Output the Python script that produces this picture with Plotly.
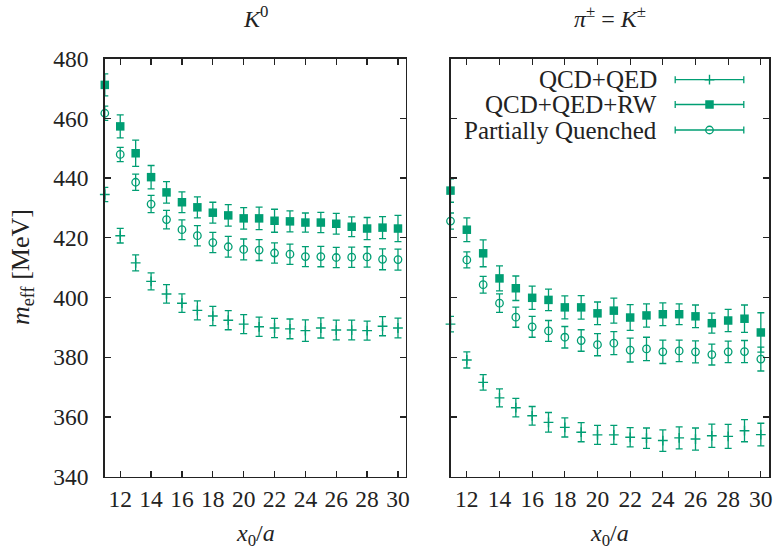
import plotly.graph_objects as go

# ---------------- data ----------------
x0a = list(range(11, 31))

# K0 panel
k0_qcdqed = [434.5, 420.7, 411.6, 405.4, 401.2, 398.1, 395.7, 393.8, 392.4, 391.1,
             390.2, 389.8, 389.5, 388.9, 389.8, 389.1, 389.1, 388.9, 390.4, 389.8]
k0_qcdqed_err = [2.4, 2.45, 2.7, 2.85, 3.1, 3.1, 3.2, 3.2, 3.2, 3.2,
                 3.2, 3.2, 3.3, 3.6, 3.35, 3.3, 3.3, 3.2, 3.2, 3.3]
k0_rw = [471.2, 457.3, 448.3, 440.3, 435.2, 431.9, 430.2, 428.4, 427.5, 426.5,
         426.5, 425.7, 425.5, 425.1, 425.1, 424.7, 423.7, 423.1, 423.4, 423.1]
k0_rw_err = [3.7, 3.85, 4.4, 3.9, 3.6, 3.5, 3.5, 3.5, 3.6, 3.6,
             3.8, 3.85, 3.5, 3.2, 3.4, 3.5, 3.3, 3.7, 3.7, 4.4]
k0_pq = [461.7, 447.9, 438.6, 431.3, 426.1, 422.7, 420.7, 418.4, 417.0, 416.1,
         415.9, 414.9, 414.5, 413.7, 413.7, 413.4, 413.5, 413.6, 412.8, 412.7]
k0_pq_err = [2.4, 2.4, 2.7, 2.9, 3.1, 3.3, 3.4, 3.4, 3.5, 3.5,
             3.5, 3.4, 3.4, 3.35, 3.4, 3.4, 3.4, 3.4, 3.5, 3.5]

# pi+- = K+- panel
pi_qcdqed = [391.1, 379.1, 371.6, 366.4, 363.1, 360.4, 358.2, 356.5, 354.9, 354.0,
             354.0, 353.2, 352.9, 352.1, 353.0, 352.6, 353.7, 353.5, 355.4, 354.1]
pi_qcdqed_err = [2.6, 2.7, 2.6, 3.0, 3.1, 3.1, 3.3, 3.2, 3.2, 3.2,
                 3.2, 3.2, 3.4, 3.6, 3.7, 3.7, 3.9, 4.0, 3.7, 3.8]
pi_rw = [435.8, 422.7, 414.8, 406.4, 403.1, 399.9, 399.2, 396.7, 396.7, 394.7,
         395.6, 393.3, 394.0, 394.4, 394.4, 393.7, 391.4, 392.3, 392.9, 388.3]
pi_rw_err = [3.9, 4.0, 4.5, 4.2, 4.1, 3.9, 3.6, 3.85, 3.96, 3.8,
             4.2, 4.3, 3.9, 3.8, 3.5, 3.8, 3.35, 3.7, 4.6, 6.6]
pi_pq = [425.6, 412.6, 404.3, 398.1, 393.4, 390.2, 388.8, 386.7, 385.6, 384.2,
         384.7, 382.4, 382.8, 381.8, 382.1, 381.8, 380.9, 381.8, 381.9, 379.4]
pi_pq_err = [2.7, 2.7, 2.8, 3.1, 3.35, 3.5, 3.5, 3.6, 3.6, 3.7,
             3.85, 4.0, 3.9, 3.9, 3.6, 3.7, 3.5, 3.6, 3.7, 4.0]

series_names = ["QCD+QED", "QCD+QED+RW", "Partially Quenched"]
x_ticks = [12, 14, 16, 18, 20, 22, 24, 26, 28, 30]
y_ticks = [340, 360, 380, 400, 420, 440, 460, 480]

# ---------------- styling ----------------
GREEN = "#009E73"
FONT = "Liberation Serif"
INK = "#222222"
W, H = 775, 551

styles = [
    dict(symbol="cross-thin-open", size=7, line=dict(width=1.4, color=GREEN), color=GREEN),
    dict(symbol="square", size=8.5, color=GREEN, line=dict(width=0)),
    dict(symbol="circle-open", size=7.5, color=GREEN, line=dict(width=1.3, color=GREEN)),
]

fig = go.Figure()

panels = [
    ("x", "y", [(k0_qcdqed, k0_qcdqed_err), (k0_rw, k0_rw_err), (k0_pq, k0_pq_err)]),
    ("x2", "y2", [(pi_qcdqed, pi_qcdqed_err), (pi_rw, pi_rw_err), (pi_pq, pi_pq_err)]),
]
for xa, ya, sers in panels:
    for (vals, errs), st, name in zip(sers, styles, series_names):
        fig.add_trace(go.Scatter(
            x=x0a, y=vals, mode="markers", name=name, showlegend=False,
            xaxis=xa, yaxis=ya, marker=st, cliponaxis=False,
            error_y=dict(type="data", array=errs, visible=True, color=GREEN,
                         thickness=1.3, width=3.5),
        ))

# legend drawn in pixel coordinates on an invisible overlay axis
leg_rows = [79.7, 104.5, 130.0]
leg_marker_x = 709.5
leg_half = 34.3
for st, name, ry in zip(styles, series_names, leg_rows):
    fig.add_trace(go.Scatter(
        x=[leg_marker_x], y=[ry], mode="markers", showlegend=False,
        xaxis="x3", yaxis="y3", marker=st, cliponaxis=False,
        error_x=dict(type="constant", value=leg_half, visible=True, color=GREEN,
                     thickness=1.3, width=3.5),
    ))
    fig.add_annotation(x=659 / W, y=1 - ry / H, xref="paper", yref="paper",
                       text=name, showarrow=False, xanchor="right", yanchor="middle",
                       font=dict(family=FONT, size=25, color=INK))

axis_common = dict(
    showgrid=False, zeroline=False, showline=True, linecolor=INK, linewidth=1.5,
    mirror="ticks", ticks="inside", ticklen=6, tickwidth=1.3, tickcolor=INK,
    tickfont=dict(family=FONT, size=23.5, color=INK), automargin=False,
)

xdom1 = [104.8 / W, 405.7 / W]
xdom2 = [450.5 / W, 769.0 / W]
ydom = [1 - 476.7 / H, 1 - 58.6 / H]

fig.update_layout(
    width=W, height=H, margin=dict(l=0, r=0, t=0, b=0, autoexpand=False),
    paper_bgcolor="white", plot_bgcolor="rgba(0,0,0,0)", showlegend=False,
    xaxis=dict(domain=xdom1, range=[11, 30.5], tickvals=x_ticks, anchor="y",
               ticklabelstandoff=1, **axis_common),
    yaxis=dict(domain=ydom, range=[340, 480], tickvals=y_ticks, anchor="x",
               ticklabelstandoff=10, **axis_common),
    xaxis2=dict(domain=xdom2, range=[11, 30.5], tickvals=x_ticks, anchor="y2",
                ticklabelstandoff=1, **axis_common),
    yaxis2=dict(domain=ydom, range=[340, 480], tickvals=y_ticks, anchor="x2",
                showticklabels=False, **axis_common),
    xaxis3=dict(domain=[0, 1], range=[0, W], visible=False, anchor="y3", automargin=False),
    yaxis3=dict(domain=[0, 1], range=[H, 0], visible=False, anchor="x3", automargin=False),
)

ann = [
    ((xdom1[0] + xdom1[1]) / 2, 1 - 17 / H, "<i>K</i><sup>0</sup>", 0, 24),
    ((xdom2[0] + xdom2[1]) / 2, 1 - 17 / H, "<i>π</i><sup>±</sup> = <i>K</i><sup>±</sup>", 0, 24),
    ((xdom1[0] + xdom1[1]) / 2, 1 - 535 / H, "<i>x</i><sub>0</sub>/<i>a</i>", 0, 24),
    ((xdom2[0] + xdom2[1]) / 2, 1 - 535 / H, "<i>x</i><sub>0</sub>/<i>a</i>", 0, 24),
    (22 / W, 1 - 267 / H, "<i>m</i><sub>eff</sub> [MeV]", -90, 26),
]
for ax_, ay_, txt, ang, fs in ann:
    fig.add_annotation(x=ax_, y=ay_, xref="paper", yref="paper", text=txt,
                       showarrow=False, xanchor="center", yanchor="middle",
                       textangle=ang, font=dict(family=FONT, size=fs, color=INK))

fig.write_html(
    "out.html",
    config={"displayModeBar": False, "staticPlot": True},
    post_script="document.body.style.margin='0';document.body.style.overflow='hidden';",
)
